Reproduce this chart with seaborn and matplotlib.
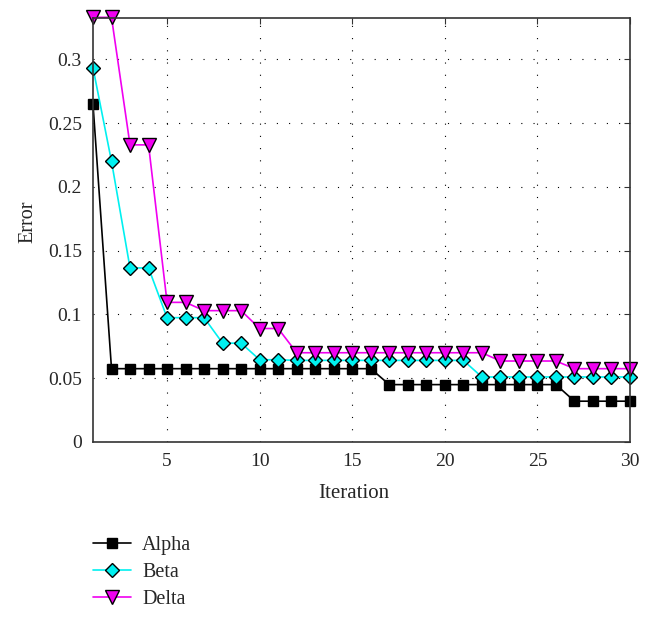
import matplotlib
matplotlib.use("Agg")
import matplotlib.pyplot as plt
import pandas as pd
import seaborn as sns

iterations = list(range(1, 31))

alpha = [0.265] + [0.0575] * 15 + [0.0450] * 10 + [0.0320] * 4
beta = [0.2935, 0.2200, 0.1365, 0.1365, 0.0975, 0.0975, 0.0975, 0.0775,
        0.0775, 0.0645, 0.0645] + [0.0640] * 10 + [0.0510] * 9
delta = [0.3330, 0.3330, 0.2330, 0.2330, 0.1095, 0.1095, 0.1030, 0.1030,
         0.1030, 0.0890, 0.0890] + [0.0700] * 11 + [0.0635] * 4 + [0.0575] * 4

series_names = ["Alpha", "Beta", "Delta"]
series_colors = ["black", "#00f0f0", "#f000f0"]
series_markers = ["s", "D", "v"]
series_sizes = [7, 7.5, 10]

df = pd.DataFrame({"Iteration": iterations, "Alpha": alpha, "Beta": beta, "Delta": delta})
df_long = df.melt(id_vars="Iteration", var_name="series", value_name="Error")

sns.set_style("white")
plt.rcParams["font.family"] = ["Liberation Serif", "DejaVu Serif"]

fig = plt.figure(figsize=(6.53, 6.2), dpi=100)
ax = fig.add_axes([0.1424, 0.2871, 0.8224, 0.6839])

for name, col, mk, ms in zip(series_names, series_colors, series_markers, series_sizes):
    sub = df_long[df_long["series"] == name]
    sns.lineplot(
        data=sub, x="Iteration", y="Error", ax=ax, color=col, marker=mk,
        markersize=ms, markerfacecolor=col, markeredgecolor="black",
        markeredgewidth=1.0, linewidth=1.2, label=name, clip_on=False,
    )

ax.set_xlim(1, 30)
ax.set_ylim(0, 0.3325)
ax.set_xticks([5, 10, 15, 20, 25, 30])
ax.set_yticks([0, 0.05, 0.1, 0.15, 0.2, 0.25, 0.3])
ax.set_yticklabels(["0", "0.05", "0.1", "0.15", "0.2", "0.25", "0.3"])
ax.grid(True, color="black", linestyle=(0, (1, 10)), linewidth=0.8)
ax.tick_params(direction="in", length=4, labelsize=14, top=True, right=True,
               color="#333333", pad=8)
for sp in ax.spines.values():
    sp.set_color("#333333")
    sp.set_linewidth(1.2)

ax.set_xlabel("Iteration", fontsize=15)
ax.set_ylabel("Error", fontsize=14.5)
ax.xaxis.set_label_coords(0.486, -0.1)
ax.yaxis.set_label_coords(-0.104, 0.52)

ax.legend(loc="upper left", bbox_to_anchor=(0.13, 0.148), bbox_transform=fig.transFigure,
          frameon=False, fontsize=14.5, handlelength=1.9, handletextpad=0.55,
          labelspacing=0.38, borderaxespad=0)

fig.savefig("out.png", dpi=100)
